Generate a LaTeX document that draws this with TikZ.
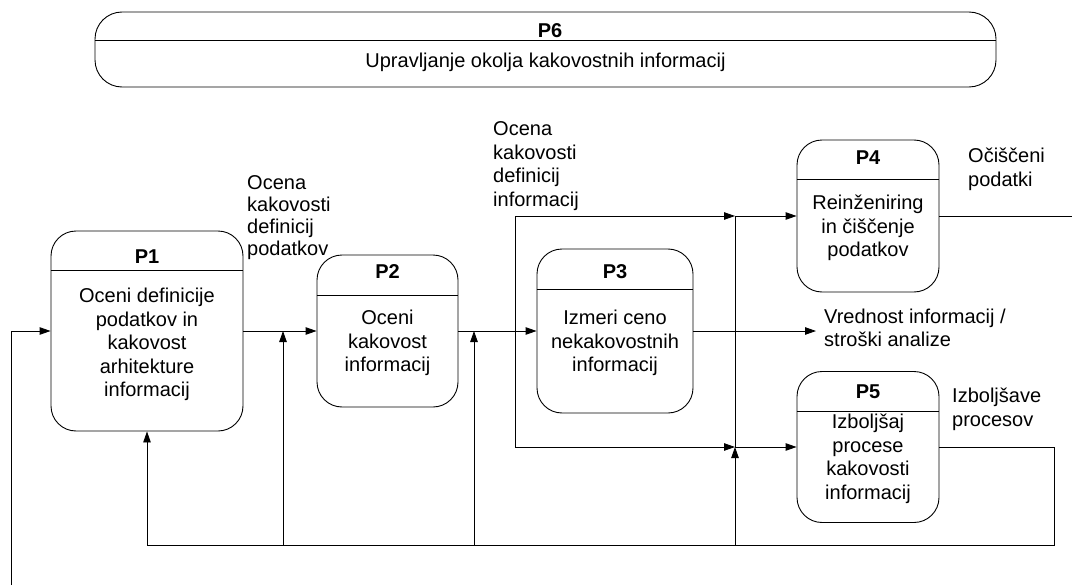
\documentclass[tikz,border=0pt]{standalone}
\usepackage{fontspec}
\setmainfont{Liberation Sans}
\usetikzlibrary{arrows.meta}
\begin{document}
\begin{tikzpicture}[x=1pt,y=-1pt,
  line/.style={line width=0.9pt},
  flow/.style={line, -{Triangle[length=11pt,width=7.5pt]}},
  proc/.style={draw, line width=0.9pt, rounded corners=25pt, inner sep=0pt},
  txt/.style={font=\fontsize{20}{23.5}\selectfont, inner sep=0pt, align=center},
  ttl/.style={font=\fontsize{20}{23.5}\selectfont\bfseries, inner sep=0pt},
  lbl/.style={font=\fontsize{20}{23.5}\selectfont, inner sep=0pt, align=left, anchor=west}]
\useasboundingbox (0,0) rectangle (1072,586);

% process boxes
\node[proc, rounded corners=27pt, minimum width=901pt, minimum height=75pt] (p6) at (545.5,49.5) {};
\node[proc, minimum width=192pt, minimum height=200pt] (p1) at (147,331) {};
\node[proc, minimum width=141pt, minimum height=152pt] (p2) at (387.5,331) {};
\node[proc, minimum width=156pt, minimum height=164pt] (p3) at (615,331) {};
\node[proc, minimum width=142pt, minimum height=152pt] (p4) at (868,216) {};
\node[proc, minimum width=142pt, minimum height=151pt] (p5) at (868,447) {};

% header dividers
\draw[line] ([yshift=-29pt]p6.north west) -- ([yshift=-29pt]p6.north east);
\draw[line] ([yshift=-40pt]p1.north west) -- ([yshift=-40pt]p1.north east);
\draw[line] ([yshift=-41pt]p2.north west) -- ([yshift=-41pt]p2.north east);
\draw[line] ([yshift=-41pt]p3.north west) -- ([yshift=-41pt]p3.north east);
\draw[line] ([yshift=-40pt]p4.north west) -- ([yshift=-40pt]p4.north east);
\draw[line] ([yshift=-40pt]p5.north west) -- ([yshift=-40pt]p5.north east);

% box titles and bodies
\node[ttl] (t6) at (550,31) {P6};
\node[txt] (b6) at (545.5,62.8) {Upravljanje okolja kakovostnih informacij};
\node[ttl] (t1) at (147,256.5) {P1};
\node[txt] (b1) at (147,344.7) {Oceni definicije\\podatkov in\\kakovost\\arhitekture\\informacij};
\node[ttl] (t2) at (387.5,272) {P2};
\node[txt] (b2) at (387.5,343.3) {Oceni\\kakovost\\informacij};
\node[ttl] (t3) at (615,272) {P3};
\node[txt] (b3) at (615,343.3) {Izmeri ceno\\nekakovostnih\\informacij};
\node[ttl] (t4) at (868,158) {P4};
\node[txt] (b4) at (868,228) {Reinženiring\\in čiščenje\\podatkov};
\node[ttl] (t5) at (868,392) {P5};
\node[txt] (b5) at (868,459) {Izboljšaj\\procese\\kakovosti\\informacij};

% flow labels
\node[lbl, font=\fontsize{20}{22}\selectfont] (l1) at (247,217.8) {Ocena\\kakovosti\\definicij\\podatkov};
\node[lbl] (l2) at (493,166) {Ocena\\kakovosti\\definicij\\informacij};
\node[lbl] (l3) at (968,169.3) {Očiščeni\\podatki};
\node[lbl] (l4) at (824,327.8) {Vrednost informacij /\\stroški analize};
\node[lbl] (l5) at (952,409.3) {Izboljšave\\procesov};

% junctions and free ends
\coordinate (in) at (11,585);
\coordinate (split) at (515,331);
\coordinate (j4) at (735,216);
\coordinate (j5) at (735,447);
\coordinate (val) at (816,331);
\coordinate (out4) at (1072,216);
\coordinate (r) at (1054,545);
\coordinate (f1) at (147,545);
\coordinate (f2) at (283,545);
\coordinate (f3) at (474,545);
\coordinate (f4) at (735,545);

% main flow
\draw[flow] (in) |- (p1.west);
\draw[flow] (p1.east) -- (p2.west);
\draw[flow] (p2.east) -- (p3.west);
\draw[flow] (split) |- (j4);
\draw[flow] (j4) -- (p4.west);
\draw[flow] (split) |- (j5);
\draw[flow] (j5) -- (p5.west);
\draw[line] (j5) -- (j4);
\draw[flow] (p3.east) -- (val);
\draw[line] (p4.east) -- (out4);

% feedback loop
\draw[line] (p5.east) -| (r) -- (f1);
\draw[flow] (f1) -- (p1.south);
\draw[flow] (f2) -- (f2 |- p1.east);
\draw[flow] (f3) -- (f3 |- p2.east);
\draw[flow] (f4) -- (j5);
\end{tikzpicture}
\end{document}
